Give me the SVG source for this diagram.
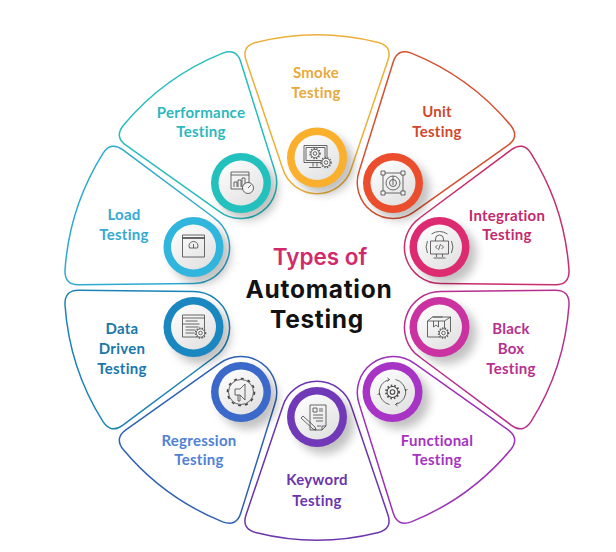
<svg xmlns="http://www.w3.org/2000/svg" xmlns:xlink="http://www.w3.org/1999/xlink" width="616" height="552" viewBox="0 0 616 552">
<style>
text{font-family:"Lato","Liberation Sans",sans-serif;font-weight:700;text-anchor:middle}
.l{font-size:15px;letter-spacing:.25px}
.t{font-family:"Inter","Liberation Sans",sans-serif;font-size:24.500px;letter-spacing:.7px}
.o{fill:none;stroke-width:1.5}
.i{fill:none;stroke:#444;stroke-width:.8;stroke-linejoin:round}
.w{fill:#f4f4f4;stroke:#444;stroke-width:.8}
.d{fill:url(#disc)}
</style>
<defs>
<linearGradient id="disc" x1="0.2" y1="0.1" x2="0.8" y2="0.95"><stop offset="0" stop-color="#fbfbfb"/><stop offset="1" stop-color="#e2e2e2"/></linearGradient>
<filter id="sh" x="-50%" y="-50%" width="220%" height="220%"><feGaussianBlur stdDeviation="5"/></filter>
<path id="petal" d="M255.500,42.500A252,252 0 0 1 378.500,42.500Q392.500,46.500 388,60L351.500,168A36,36 0 0 1 282.500,168L246,60Q241.500,46.500 255.500,42.500Z"/>
<g id="base"><circle cx="7" cy="7" r="30" fill="#000" opacity=".24" filter="url(#sh)"/></g>
<g id="gear"><circle r="5" fill="#f4f4f4" stroke="#555" stroke-width="1.500" stroke-dasharray="1.200 1.500"/><circle r="4.200" class="w"/><circle r="1.800" class="i"/></g>
</defs>

<g id="smoke-testing">
<use href="#petal" class="o" stroke="#ecb03a"/>
<use href="#base" x="317" y="157.5"/><circle cx="317" cy="157.5" r="30" fill="#fbb02d"/><circle cx="317" cy="157.5" r="22.5" class="d"/>
<g transform="translate(317 157.5)"><rect x="-13" y="-12" width="23" height="17" class="i"/><rect x="-11" y="-10" width="19" height="13" class="i"/><path d="M-4,5V9M0,5V9M-8,10H4" class="i"/><use href="#gear" x="-2" y="-4"/><use href="#gear" x="9" y="5"/></g>
<text class="l" fill="#e8a93a"><tspan x="316" y="78">Smoke</tspan><tspan x="316" y="98">Testing</tspan></text>
</g>

<g id="unit-testing">
<use href="#petal" class="o" stroke="#d4502f" transform="rotate(36 317 287.5)"/>
<use href="#base" x="393" y="183"/><circle cx="393" cy="183" r="30" fill="#ea4e2c"/><circle cx="393" cy="183" r="22.5" class="d"/>
<g transform="translate(393 183)" class="i"><rect x="-10" y="-10" width="20" height="20"/><circle r="7"/><circle r="3.5"/><path d="M0,-7V2"/><rect x="-12" y="-12" width="4" height="4" class="w"/><rect x="8" y="-12" width="4" height="4" class="w"/><rect x="-12" y="8" width="4" height="4" class="w"/><rect x="8" y="8" width="4" height="4" class="w"/></g>
<text class="l" fill="#d0472e"><tspan x="437" y="117">Unit</tspan><tspan x="437" y="137">Testing</tspan></text>
</g>

<g id="integration-testing">
<use href="#petal" class="o" stroke="#c82d6e" transform="rotate(72 317 287.5)"/>
<use href="#base" x="439.500" y="247"/><circle cx="439.500" cy="247" r="30" fill="#dc2b70"/><circle cx="439.500" cy="247" r="22.5" class="d"/>
<g transform="translate(439.500 247)" class="i"><rect x="-9" y="-6" width="18" height="13"/><path d="M-3,7V10M3,7V10M-6,11H6M-4,-6V-8A4,4 0 0 1 4,-8V-6M-2,-2L-4,0L-2,2M2,-2L4,0L2,2M1,-3L-1,3M-12,-6A14,14 0 0 0 -12,6M12,-6A14,14 0 0 1 12,6M-8,-13A14,14 0 0 1 8,-13"/></g>
<text class="l" fill="#c22a6d"><tspan x="507" y="221">Integration</tspan><tspan x="507" y="240">Testing</tspan></text>
</g>

<g id="black-box-testing">
<use href="#petal" class="o" stroke="#b72f8e" transform="rotate(108 317 287.5)"/>
<use href="#base" x="439.500" y="327"/><circle cx="439.500" cy="327" r="30" fill="#c932a0"/><circle cx="439.500" cy="327" r="22.5" class="d"/>
<g transform="translate(439.500 327)" class="i"><path d="M-12,-6H5V10H-12ZM-12,-6L-7,-10H11L5,-6M11,-10V5M-7,-10H3M-6,-6V0L-3.500,-2L-1,0V-6"/><use href="#gear" x="4" y="6"/></g>
<text class="l" fill="#b82f90"><tspan x="511" y="334">Black</tspan><tspan x="511" y="354">Box</tspan><tspan x="511" y="374">Testing</tspan></text>
</g>

<g id="functional-testing">
<use href="#petal" class="o" stroke="#9c32b8" transform="rotate(144 317 287.5)"/>
<use href="#base" x="392.500" y="392"/><circle cx="392.500" cy="392" r="30" fill="#a834c6"/><circle cx="392.500" cy="392" r="22.5" class="d"/>
<g transform="translate(392.500 392)" class="i"><use href="#gear" transform="scale(1.300)"/><path d="M-13,3A13,13 0 0 1 -3,-12.500L-5,-14M-3,-12.500L-5,-10.500M13,-3A13,13 0 0 1 3,12.500L5,14M3,12.500L5,10.500M3,-12.500A13,13 0 0 1 13,-1L15,-3M-3,12.500A13,13 0 0 1 -13,1L-15,3"/></g>
<text class="l" fill="#a533c2"><tspan x="437" y="446">Functional</tspan><tspan x="437" y="465">Testing</tspan></text>
</g>

<g id="keyword-testing">
<use href="#petal" class="o" stroke="#6b36ae" transform="rotate(180 317 287.5)"/>
<use href="#base" x="317" y="417"/><circle cx="317" cy="417" r="30" fill="#7139b8"/><circle cx="317" cy="417" r="22.5" class="d"/>
<g transform="translate(317 417)" class="i"><path d="M-7,-12H9V9L5,13H-7ZM5,13V9H9M-4,-9h4v4h-4ZM2,-8H6M2,-6H6M-4,-2H6M-4,1H6M-1,4H6M0,9H4M-14,-1L-2,10L-1,13L-4,12L-16,1Z"/></g>
<text class="l" fill="#6a35ad"><tspan x="317" y="485">Keyword</tspan><tspan x="317" y="506">Testing</tspan></text>
</g>

<g id="regression-testing">
<use href="#petal" class="o" stroke="#2f62b4" transform="rotate(216 317 287.5)"/>
<use href="#base" x="241" y="392"/><circle cx="241" cy="392" r="30" fill="#3b69c9"/><circle cx="241" cy="392" r="22.5" class="d"/>
<g transform="translate(241 392)" class="i"><circle r="12.500"/><circle r="13.500" stroke-width="1.600" stroke-dasharray="3 4"/><path d="M-6,-3H-1L4,-8V8L-1,3H-6ZM-3,3V9H-1V3"/></g>
<text class="l" fill="#4f82d4"><tspan x="199" y="446">Regression</tspan><tspan x="199" y="465">Testing</tspan></text>
</g>

<g id="data-driven-testing">
<use href="#petal" class="o" stroke="#1c83b6" transform="rotate(252 317 287.5)"/>
<use href="#base" x="193.500" y="327"/><circle cx="193.500" cy="327" r="30" fill="#1b87c0"/><circle cx="193.500" cy="327" r="22.5" class="d"/>
<g transform="translate(193.500 327)" class="i"><rect x="-11" y="-12" width="22" height="22"/><path d="M-11,-9H11M-8,-6H4M-11,-3H6M-8,0H5M-8,3H2M-8,6H1"/><use href="#gear" x="7" y="6"/></g>
<text class="l" fill="#1a77ab"><tspan x="122" y="334">Data</tspan><tspan x="122" y="354">Driven</tspan><tspan x="122" y="374">Testing</tspan></text>
</g>

<g id="load-testing">
<use href="#petal" class="o" stroke="#2fa9cf" transform="rotate(288 317 287.5)"/>
<use href="#base" x="193.500" y="247"/><circle cx="193.500" cy="247" r="30" fill="#30b5dc"/><circle cx="193.500" cy="247" r="22.5" class="d"/>
<g transform="translate(193.500 247)" class="i"><rect x="-11" y="-12" width="22" height="22"/><path d="M-11,-9H11" stroke-width="1.600"/><path d="M-4,1A4.500,4.500 0 1 1 4,1ZM0,1V-3"/></g>
<text class="l" fill="#36a9d2"><tspan x="124" y="220">Load</tspan><tspan x="124" y="240">Testing</tspan></text>
</g>

<g id="performance-testing">
<use href="#petal" class="o" stroke="#27bcbe" transform="rotate(324 317 287.5)"/>
<use href="#base" x="241" y="183"/><circle cx="241" cy="183" r="30" fill="#23c1bd"/><circle cx="241" cy="183" r="22.5" class="d"/>
<g transform="translate(241 183)" class="i"><rect x="-10" y="-11" width="18" height="17"/><path d="M-10,-8H8M-7,4V-1H-4V4M-3,4V-3H0V4M1,4V-5H4V2"/><circle cx="7" cy="5" r="5.500" class="w"/><path d="M7,5L10,2"/></g>
<text class="l" fill="#2cb8bd"><tspan x="201" y="118">Performance</tspan><tspan x="201" y="137">Testing</tspan></text>
</g>

<g id="title">
<text class="t" fill="#d12a6b" x="320" y="265" style="font-size:22.500px;font-weight:600;letter-spacing:0">Types of</text>
<text class="t" fill="#121212" x="319" y="298">Automation</text>
<text class="t" fill="#121212" x="317" y="328">Testing</text>
</g>
</svg>
